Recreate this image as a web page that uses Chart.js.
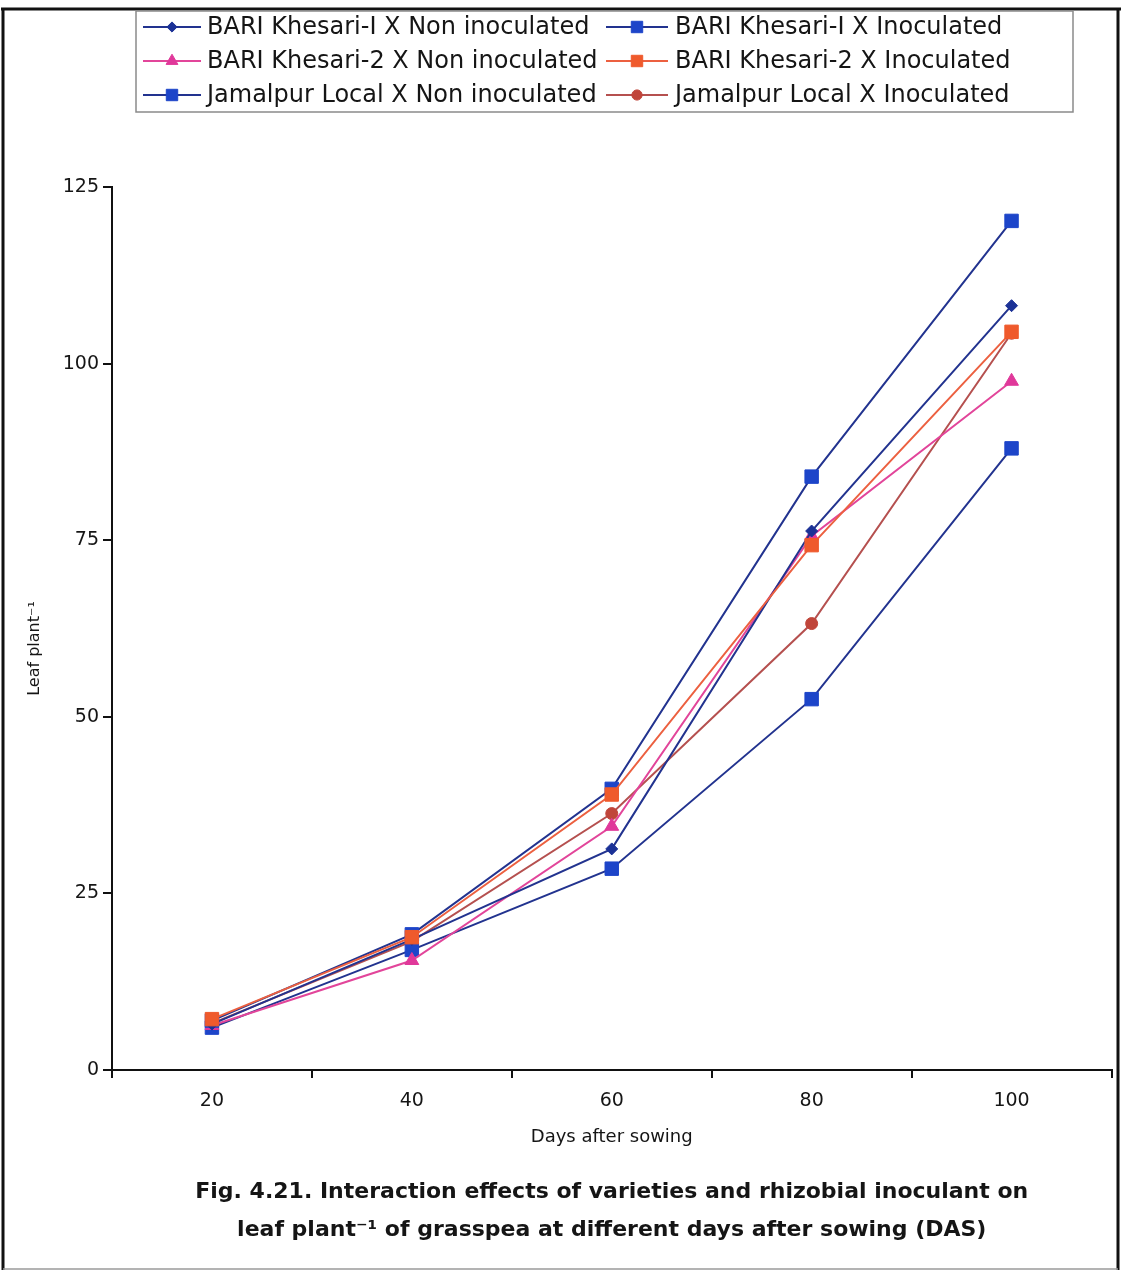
<!DOCTYPE html>
<html>
<head>
<meta charset="utf-8">
<script src="https://cdn.jsdelivr.net/npm/chart.js@4/dist/chart.umd.min.js"></script>
<style>
  html, body { margin: 0; padding: 0; background: #fff; }
  #wrap { width: 1122px; height: 1279px; }
</style>
</head>
<body>
<div id="wrap"><canvas id="grafico" width="1122" height="1279"></canvas></div>
<script>
// Days after sowing
const dias = ['20', '40', '60', '80', '100'];

// Leaf plant-1 per variety x inoculation
const bk1NoInoc = [6.5, 18.5, 31.3, 76.3, 108.2];
const bk1Inoc   = [7.0, 19.2, 39.8, 84.0, 120.2];
const bk2NoInoc = [6.3, 15.5, 34.5, 75.6, 97.5];
const bk2Inoc   = [7.2, 18.8, 39.0, 74.3, 104.5];
const jlNoInoc  = [6.0, 17.0, 28.5, 52.5, 88.0];
const jlInoc    = [6.6, 18.2, 36.3, 63.2, 104.3];

const yTicks = [0, 25, 50, 75, 100, 125];

const FONT = "'DejaVu Sans', Verdana, sans-serif";
const TEXT = '#151515';

function serie(label, data, line, fill, style, radius, order) {
  return {
    label, data,
    borderColor: line,
    borderWidth: 2,
    pointStyle: style,
    pointRadius: radius,
    pointBackgroundColor: fill,
    pointBorderColor: fill,
    pointBorderWidth: 1,
    tension: 0,
    clip: false,
    order: order || 0
  };
}

const datasets = [
  serie('BARI Khesari-I X Non inoculated', bk1NoInoc, '#22338f', '#1b3196', 'rectRot', 6),
  serie('BARI Khesari-I X Inoculated', bk1Inoc, '#22338f', '#1d45c9', 'rect', 9.5),
  serie('BARI Khesari-2 X Non inoculated', bk2NoInoc, '#e2459a', '#e0389a', 'triangle', 8),
  serie('BARI Khesari-2 X Inoculated', bk2Inoc, '#ec6040', '#ef5a2c', 'rect', 9.5, -1),
  serie('Jamalpur Local X Non inoculated', jlNoInoc, '#22338f', '#1d45c9', 'rect', 9.5),
  serie('Jamalpur Local X Inoculated', jlInoc, '#b5504f', '#c0453a', 'circle', 6)
];

// outer frame of the figure
const marco = {
  id: 'marco',
  afterDraw(chart) {
    const ctx = chart.ctx;
    ctx.save();
    ctx.strokeStyle = '#111';
    ctx.lineWidth = 3;
    ctx.beginPath();
    ctx.moveTo(1, 9); ctx.lineTo(1121, 9);
    ctx.moveTo(3, 9); ctx.lineTo(3, 1270);
    ctx.moveTo(1118, 9); ctx.lineTo(1118, 1270);
    ctx.stroke();
    ctx.strokeStyle = '#9a9a9a';
    ctx.lineWidth = 1.5;
    ctx.beginPath();
    ctx.moveTo(3, 1269); ctx.lineTo(1118, 1269);
    ctx.stroke();
    ctx.restore();
  }
};

// two-column boxed legend, line sample with marker
const leyenda = {
  id: 'leyenda',
  afterDraw(chart) {
    const ctx = chart.ctx;
    const cols = [{ x0: 143, x1: 201, tx: 207 }, { x0: 606, x1: 668, tx: 675 }];
    const rows = [27, 61, 95];
    ctx.save();
    ctx.fillStyle = '#fff';
    ctx.fillRect(136, 11, 937, 101);
    ctx.strokeStyle = '#8a8a8a';
    ctx.lineWidth = 1.5;
    ctx.strokeRect(136, 11, 937, 101);
    ctx.font = '24px ' + FONT;
    ctx.textBaseline = 'middle';
    chart.data.datasets.forEach((ds, i) => {
      const c = cols[i % 2];
      const y = rows[Math.floor(i / 2)];
      ctx.strokeStyle = ds.borderColor;
      ctx.lineWidth = 2;
      ctx.beginPath();
      ctx.moveTo(c.x0, y); ctx.lineTo(c.x1, y);
      ctx.stroke();
      ctx.fillStyle = ds.pointBackgroundColor;
      ctx.strokeStyle = ds.pointBorderColor;
      ctx.lineWidth = 1;
      Chart.helpers.drawPoint(ctx, {
        pointStyle: ds.pointStyle, radius: ds.pointRadius * 0.85, rotation: 0, borderWidth: 1
      }, (c.x0 + c.x1) / 2, y);
      ctx.fillStyle = TEXT;
      ctx.fillText(ds.label, c.tx, y + 1);
    });
    ctx.restore();
  }
};

new Chart(document.getElementById('grafico').getContext('2d'), {
  type: 'line',
  data: { labels: dias, datasets },
  options: {
    responsive: false,
    animation: false,
    events: [],
    layout: { padding: { top: 187, left: 0, right: 4, bottom: 0 } },
    plugins: {
      legend: { display: false },
      tooltip: { enabled: false },
      title: {
        display: true,
        position: 'bottom',
        fullSize: false,
        text: [
          'Fig. 4.21. Interaction effects of varieties and rhizobial inoculant on',
          'leaf plant\u207B\u00B9 of grasspea at different days after sowing (DAS)'
        ],
        color: TEXT,
        font: { family: FONT, size: 22, weight: 'bold', lineHeight: '38px' },
        padding: { top: 13, bottom: 30 }
      }
    },
    scales: {
      x: {
        offset: true,
        grid: { drawOnChartArea: false, offset: true, tickLength: 8, color: '#111', lineWidth: 2 },
        border: { color: '#111', width: 2 },
        ticks: { color: TEXT, font: { family: FONT, size: 19 }, padding: 12 },
        title: {
          display: true, text: 'Days after sowing', color: TEXT,
          font: { family: FONT, size: 18 }, padding: { top: 0, bottom: 12 }
        },
        afterFit: s => { s.height = 90; }
      },
      y: {
        min: 0,
        max: 125,
        afterBuildTicks: s => { s.ticks = yTicks.map(v => ({ value: v })); },
        grid: { drawOnChartArea: false, tickLength: 9, color: '#111', lineWidth: 2 },
        border: { color: '#111', width: 2 },
        ticks: { color: TEXT, font: { family: FONT, size: 19 }, padding: 4 },
        title: {
          display: true, text: 'Leaf plant\u207B\u00B9\u2002\u2002\u2002\u2002\u2002', color: TEXT,
          font: { family: FONT, size: 16 }, padding: { top: 25, bottom: 0 }
        },
        afterFit: s => { s.width = 112; }
      }
    }
  },
  plugins: [marco, leyenda]
});
</script>
</body>
</html>
